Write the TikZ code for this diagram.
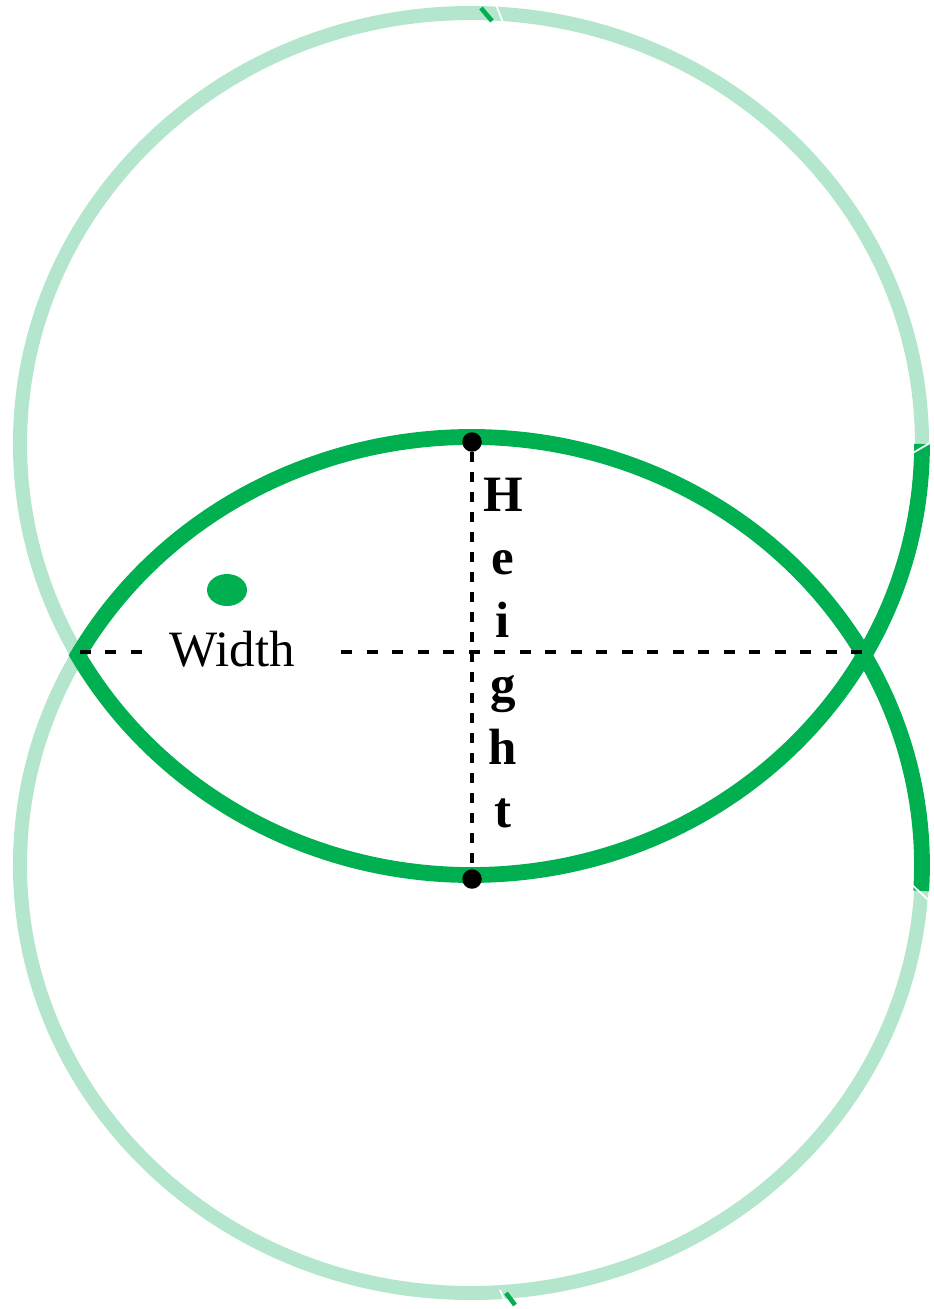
\documentclass[tikz,border=0pt]{standalone}
\usepackage{fontspec}
\setmainfont{Liberation Serif}
\usetikzlibrary{positioning,shapes.geometric}
\definecolor{ink}{HTML}{000000}
\definecolor{ringlight}{HTML}{B3E6CC}
\definecolor{ringdark}{HTML}{00B050}

\begin{document}
\begin{tikzpicture}[
  x=0.2mm, y=0.2mm,
  ring/.style={draw=ringlight, line width=8pt},
  lens/.style={draw=ringdark, line width=9pt, line join=miter},
  measure/.style={draw=ink, line width=2pt, dash pattern=on 6.2pt off 8.3pt},
  pin/.style={circle, fill=ink, inner sep=0pt, minimum size=3.9mm},
  dot/.style={ellipse, fill=ringdark, inner sep=0pt, minimum width=8mm, minimum height=6.4mm},
  widthlabel/.style={font=\fontsize{29}{34}\selectfont, text=ink, inner xsep=9pt, anchor=base},
  heightlabel/.style={font=\bfseries\fontsize{29}{36}\selectfont, text=ink, align=center, inner sep=0pt},
  cut/.style={draw=white, line width=1pt}
]
\useasboundingbox (0,0) rectangle (933,-1309);

% the two rings
\draw[ring] (471,-444) ellipse [x radius=451, y radius=431];
\draw[ring] (471,-865) ellipse [x radius=451, y radius=428];

% small seams on the rings
\draw[cut] (496,-5) -- (504,-25);
\draw[ringdark, line width=2.6pt] (481,-8) -- (492,-21);
\draw[cut] (500,-1290) -- (508,-1308);
\draw[ringdark, line width=2.6pt] (506,-1293) -- (515,-1305);

% overlap region
\draw[lens] (922,-444) arc[start angle=0, end angle=-150.65, x radius=451, y radius=431]
  arc[start angle=150.65, end angle=-3.47, x radius=451, y radius=428];
\draw[cut] (911,-454) -- (935,-440);
\draw[cut] (911,-884) -- (935,-906);

% width
\coordinate (wl) at (80,-652);
\coordinate (wr) at (862,-652);
\node[dot] (wdot) at (227,-590) {};
\node[widthlabel] (wd) at (232,-666) {Width};
\draw[measure] (wl) -- (wd.west |- wl);
\draw[measure] (wr) -- ([xshift=12pt]wd.east |- wl);

% height
\node[pin] (ptop) at (472,-442) {};
\node[pin] (pbot) at (472,-879) {};
\draw[measure, dash pattern=on 5.7pt off 5.7pt] (ptop) -- (pbot);
\node[heightlabel] (ht) at (503,-653) {H\\e\\i\\g\\h\\t};
\end{tikzpicture}
\end{document}
